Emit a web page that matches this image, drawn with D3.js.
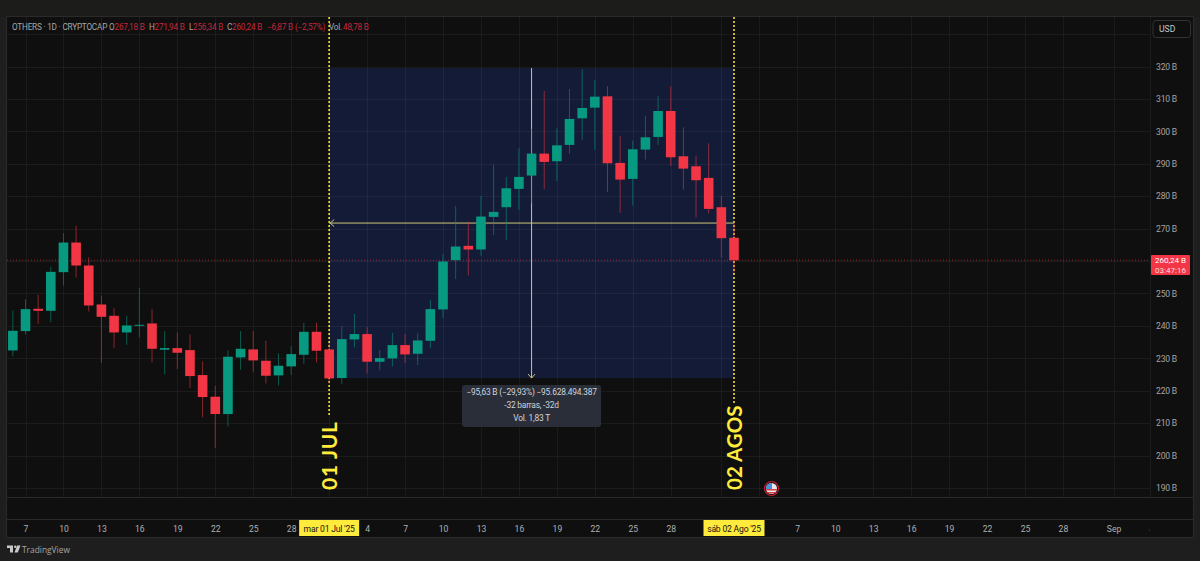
<!DOCTYPE html>
<html>
<head>
<meta charset="utf-8">
<script src="https://cdn.jsdelivr.net/npm/d3@7"></script>
<style>
  html, body { margin:0; padding:0; background:#1e1e1e; overflow:hidden; }
  text { font-family:Roboto, "Liberation Sans", sans-serif; }
  .domain { display:none; }
</style>
</head>
<body>
<div id="chart"></div>
<script>
var svgWidth = 1200;
var svgHeight = 561;

// daily candles, values in billions, first bar is 6 Jun 2025
var firstDay = '2025-06-06';
var opens = [232.43,238.39,245.27,244.65,256.57,265.71,258.62,246.6,243.11,237.98,240.03,240.75,232.64,233.15,232.53,224.83,218.15,212.81,230.27,232.74,229.25,224.73,227.5,231.09,238.18,
  232.74,223.91,235.82,237.47,228.94,229.97,234.08,231.4,235.41,245.07,260.27,264.69,263.56,273.62,276.6,282.25,286.36,293.13,290.77,295.81,304.02,307.31,310.8,290.26,285.33,294.37,298.27,306.28,292.31,289.23,285.64,276.6,267.18];
var highs = [244.76,248.25,249.6,258.3,268.6,270.85,261.19,249.38,245.48,243.11,251.74,245.17,238.39,237.98,237.36,229.04,221.54,232.53,238.39,238.39,235.41,231.51,233.77,240.96,240.96,
  234.69,239.93,243.73,239.62,232.53,237.88,237.47,237.67,248.05,262.12,277.0,272.18,280.09,289.75,285.95,294.78,300.74,312.45,300.94,313.06,319.23,315.84,313.88,298.58,297.14,304.85,310.91,313.88,301.25,292.52,296.32,280.09,271.94];
var lows = [230.58,237.36,240.65,241.16,252.46,254.93,244.45,228.53,233.15,234.18,236.44,228.73,225.03,226.68,220.82,211.78,202.33,209.01,226.47,225.86,222.26,221.64,224.83,228.32,228.73,
  222.26,222.06,233.36,225.34,226.27,227.5,228.53,227.91,233.15,242.4,254.41,255.54,261.6,267.97,266.53,275.78,277.83,282.14,284.71,293.13,297.35,294.26,281.32,274.85,277.11,291.29,295.81,289.33,282.04,273.41,274.64,260.98,256.34];
var closes = [238.49,245.17,244.65,256.67,265.71,258.62,246.3,242.8,237.98,240.13,240.34,232.94,233.15,231.71,224.52,218.05,212.81,230.48,232.94,229.35,224.62,227.7,231.3,238.18,232.33,
  223.8,235.92,237.47,228.94,230.07,234.08,231.2,235.51,245.17,259.86,264.48,263.56,273.73,275.16,282.45,285.95,293.14,290.57,295.7,303.82,307.21,310.7,290.16,285.12,294.47,298.17,306.28,292.0,288.51,284.92,276.08,267.04,260.24];

var priceTicks = [190,200,210,220,230,240,250,260,270,280,290,300,310,320];
var gridPrices = priceTicks.concat([330]);
var gridDates = ['2025-06-07','2025-06-10','2025-06-13','2025-06-16','2025-06-19','2025-06-22','2025-06-25','2025-06-28',
  '2025-07-01','2025-07-04','2025-07-07','2025-07-10','2025-07-13','2025-07-16','2025-07-19','2025-07-22','2025-07-25','2025-07-28',
  '2025-08-01','2025-08-04','2025-08-07','2025-08-10','2025-08-13','2025-08-16','2025-08-19','2025-08-22','2025-08-25','2025-08-28',
  '2025-09-01','2025-09-04'];
var hiddenDates = ['2025-07-01','2025-08-01','2025-08-04'];

var lastPrice = 260.24;
var measureTop = 319.53;
var measureBottom = 223.9;
var measureStart = '2025-07-01';
var measureEnd = '2025-08-02';
var measureMidDate = '2025-07-17';
var headerParts = [
  ['OTHERS · 1D · CRYPTOCAP', 12, 'g'], ['O', 109, 'g'], ['267,18 B', 114.5, 'r'], ['H', 149, 'g'], ['271,94 B', 154.5, 'r'],
  ['L', 189, 'g'], ['256,34 B', 193, 'r'], ['C', 227, 'g'], ['260,24 B', 232, 'r'], ['−6,87 B', 267, 'r'], ['(−2,57%)', 295, 'r'],
  ['Vol.', 329, 'g'], ['48,78 B', 343, 'r']
];
var tooltipLines = ['−95,63 B (−29,93%) −95.628.494.387', '-32 barras, -32d', 'Vol. 1,83 T'];

var parseDay = d3.utcParse('%Y-%m-%d');
var days = d3.utcDay.range(parseDay(firstDay), d3.utcDay.offset(parseDay(firstDay), closes.length));

var colUp = '#089981', colDown = '#f23645', colGold = '#ffeb3b', colAxis = '#a4a4a4';

var margin = { top:17, right:7, bottom:24, left:7 };
var paneBottom = 497;
var axisTop = 520;
var axisRight = 1150;

var xScale = d3.scaleUtc().domain([parseDay('2025-06-07'), parseDay('2025-08-02')]).range([25.5, 734]);
var yScale = d3.scaleLinear().domain([190, 320]).range([488, 66.5]);

var svg = d3.select('#chart').append('svg')
    .attr('width', svgWidth)
    .attr('height', svgHeight)
    .style('display', 'block');

var defs = svg.append('defs');
defs.append('clipPath').attr('id', 'timeClip').append('rect')
    .attr('x', margin.left).attr('y', axisTop).attr('width', axisRight - margin.left).attr('height', 18);
defs.append('clipPath').attr('id', 'flagClip').append('circle')
    .attr('cx', 771.5).attr('cy', 488.5).attr('r', 5.5);

// panel
svg.append('rect').attr('width', svgWidth).attr('height', svgHeight).attr('fill', '#1e1e1e');
svg.append('rect').attr('width', svgWidth).attr('height', margin.top).attr('fill', '#1c1c1b');
svg.append('rect')
    .attr('x', margin.left - 0.5).attr('y', margin.top - 0.5)
    .attr('width', svgWidth - margin.left - margin.right + 1).attr('height', svgHeight - margin.top - margin.bottom + 1)
    .attr('fill', '#0f0f0f').attr('stroke', '#2b2a28');

// measure box goes under the grid
var mx0 = xScale(parseDay(measureStart)), mx1 = xScale(parseDay(measureEnd));
var my0 = yScale(measureTop), my1 = yScale(measureBottom);
svg.append('rect').attr('x', mx0).attr('y', my0).attr('width', mx1 - mx0).attr('height', my1 - my0).attr('fill', '#131b36');

// grid
svg.append('g').selectAll('line').data(gridPrices).enter().append('line')
    .attr('x1', margin.left).attr('x2', axisRight)
    .attr('y1', d => Math.round(yScale(d)) + 0.5).attr('y2', d => Math.round(yScale(d)) + 0.5)
    .attr('stroke', '#ffffff').attr('stroke-opacity', 0.05);
svg.append('g').selectAll('line').data(gridDates.filter(d => xScale(parseDay(d)) < axisRight)).enter().append('line')
    .attr('x1', d => Math.round(xScale(parseDay(d))) + 0.5).attr('x2', d => Math.round(xScale(parseDay(d))) + 0.5)
    .attr('y1', margin.top).attr('y2', paneBottom)
    .attr('stroke', '#ffffff').attr('stroke-opacity', 0.05);

// pane and axis separators
svg.append('line').attr('x1', margin.left).attr('x2', svgWidth - margin.right).attr('y1', paneBottom + 0.5).attr('y2', paneBottom + 0.5).attr('stroke', '#2a2a2a');
svg.append('line').attr('x1', margin.left).attr('x2', svgWidth - margin.right).attr('y1', axisTop - 0.5).attr('y2', axisTop - 0.5).attr('stroke', '#2a2a2a');
svg.append('line').attr('x1', axisRight + 0.5).attr('x2', axisRight + 0.5).attr('y1', margin.top).attr('y2', paneBottom).attr('stroke', '#1c1c1c');

// yellow date markers sit under the candles
svg.append('line').attr('x1', mx0).attr('x2', mx0).attr('y1', margin.top).attr('y2', 415)
    .attr('stroke', colGold).attr('stroke-width', 1.5).attr('stroke-dasharray', '2 2');
svg.append('line').attr('x1', mx1).attr('x2', mx1).attr('y1', margin.top).attr('y2', 403)
    .attr('stroke', colGold).attr('stroke-width', 1.5).attr('stroke-dasharray', '2 2');

// measure lines
var midX = xScale(parseDay(measureMidDate));
var midY = yScale((measureTop + measureBottom) / 2);
var colMeasure = '#cfc878';
svg.append('line').attr('x1', mx0).attr('x2', mx1).attr('y1', midY).attr('y2', midY).attr('stroke', colMeasure).attr('stroke-width', 1);
svg.append('line').attr('x1', midX).attr('x2', midX).attr('y1', my0).attr('y2', my1).attr('stroke', colMeasure).attr('stroke-width', 1);
svg.append('path').attr('d', `M${mx0 + 5},${midY - 3.5}L${mx0 + 1},${midY}L${mx0 + 5},${midY + 3.5}`).attr('fill', 'none').attr('stroke', colMeasure);
svg.append('path').attr('d', `M${midX - 3.5},${my1 - 4}L${midX},${my1}L${midX + 3.5},${my1 - 4}`).attr('fill', 'none').attr('stroke', colMeasure);

// last price line
svg.append('line').attr('x1', margin.left).attr('x2', axisRight)
    .attr('y1', yScale(lastPrice)).attr('y2', yScale(lastPrice))
    .attr('stroke', colDown).attr('stroke-opacity', 0.6).attr('stroke-dasharray', '1 2');

// candles
var barWidth = 9.6;
var candles = svg.append('g').selectAll('g').data(days).enter().append('g');
candles.append('line')
    .attr('x1', d => xScale(d)).attr('x2', d => xScale(d))
    .attr('y1', (d, i) => yScale(highs[i])).attr('y2', (d, i) => yScale(lows[i]))
    .attr('stroke', (d, i) => closes[i] >= opens[i] ? colUp : colDown)
    .attr('stroke-opacity', 0.55).attr('stroke-width', 1);
candles.append('rect')
    .attr('x', d => xScale(d) - barWidth / 2)
    .attr('width', barWidth)
    .attr('y', (d, i) => yScale(Math.max(opens[i], closes[i])))
    .attr('height', (d, i) => Math.max(1, Math.abs(yScale(opens[i]) - yScale(closes[i]))))
    .attr('fill', (d, i) => closes[i] >= opens[i] ? colUp : colDown);

// rotated date notes
[[mx0, '01 JUL', 21, 0.7], [mx1, '02 AGOS', 20.5, 0]].forEach(function(m) {
    svg.append('text')
        .attr('transform', `translate(${m[0] + 7.5}, 490) rotate(-90)`)
        .attr('fill', colGold)
        .style('font-family', 'Lato')
        .style('font-size', m[2] + 'px').style('font-weight', 700).style('letter-spacing', m[3] + 'px')
        .text(m[1]);
});

// tooltip
svg.append('rect').attr('x', 462).attr('y', 385).attr('width', 139).attr('height', 42).attr('rx', 3).attr('fill', '#2a2e39');
svg.append('g').selectAll('text').data(tooltipLines).enter().append('text')
    .attr('x', midX).attr('y', (d, i) => 395 + i * 13)
    .attr('text-anchor', 'middle').attr('fill', '#d1d4dc').style('font-size', '8.4px').style('letter-spacing', '-0.2px')
    .text(d => d);

// price axis, the 260 label is covered by the last price tag
var priceAxis = d3.axisRight(yScale).tickValues(priceTicks.filter(d => d !== 260)).tickSize(0).tickPadding(0).tickFormat(d => d + ' B');
var priceG = svg.append('g').attr('transform', 'translate(1156,0)').call(priceAxis);
priceG.selectAll('text').attr('fill', colAxis).style('font-size', '8.6px').style('letter-spacing', '-0.2px').style('font-family', 'Roboto');

// time axis
var timeAxis = d3.axisBottom(xScale)
    .tickValues(gridDates.filter(d => hiddenDates.indexOf(d) < 0).map(parseDay))
    .tickSize(0).tickPadding(0)
    .tickFormat(d => d.getUTCDate() === 1 ? d3.utcFormat('%b')(d) : d.getUTCDate());
var timeG = svg.append('g').attr('clip-path', 'url(#timeClip)').append('g').attr('transform', 'translate(0,526)').call(timeAxis);
timeG.selectAll('text').attr('fill', '#b0b0b0').style('font-size', '8.6px').style('font-family', 'Roboto');

[[mx0, 'mar 01 Jul \'25', 60], [mx1, 'sáb 02 Ago \'25', 61]].forEach(function(m) {
    svg.append('rect').attr('x', m[0] - m[2] / 2).attr('y', 520).attr('width', m[2]).attr('height', 16).attr('fill', colGold);
    svg.append('text').attr('x', m[0]).attr('y', 531.5).attr('text-anchor', 'middle').attr('fill', '#131313')
        .style('font-size', '8.6px').style('letter-spacing', '-0.2px').text(m[1]);
});

// last price label
svg.append('rect').attr('x', 1151).attr('y', 255).attr('width', 39).attr('height', 20).attr('rx', 1).attr('fill', colDown);
svg.append('text').attr('x', 1170.5).attr('y', 263).attr('text-anchor', 'middle').attr('fill', '#ffffff').style('font-size', '8px').text('260,24 B');
svg.append('text').attr('x', 1170.5).attr('y', 272.5).attr('text-anchor', 'middle').attr('fill', '#ffd9dc').style('font-size', '8px').text('03:47:16');

// USD button
svg.append('rect').attr('x', 1153).attr('y', 20.5).attr('width', 37.5).attr('height', 17).attr('rx', 3).attr('fill', '#0f0f0f').attr('stroke', '#333333');
svg.append('text').attr('x', 1159).attr('y', 31.5).attr('fill', '#c8c8c8').style('font-size', '8.6px').text('USD');

// header
svg.append('g').selectAll('text').data(headerParts).enter().append('text')
    .attr('x', d => d[1]).attr('y', 30)
    .attr('fill', d => d[2] === 'g' ? '#a6a6a6' : '#c4273a')
    .style('font-size', '8.2px').style('letter-spacing', '-0.2px')
    .text(d => d[0]);

// flag marker
svg.append('circle').attr('cx', 771.5).attr('cy', 488.5).attr('r', 7).attr('fill', '#1a0a0c').attr('stroke', '#c4202e').attr('stroke-width', 1.2);
var flag = svg.append('g').attr('clip-path', 'url(#flagClip)');
flag.append('rect').attr('x', 765).attr('y', 482).attr('width', 13).attr('height', 13).attr('fill', '#e8e8e8');
flag.append('rect').attr('x', 765).attr('y', 489).attr('width', 13).attr('height', 1.5).attr('fill', '#d8404a');
flag.append('rect').attr('x', 765).attr('y', 492).attr('width', 13).attr('height', 1.5).attr('fill', '#d8404a');
flag.append('rect').attr('x', 765).attr('y', 482).attr('width', 7).attr('height', 7).attr('fill', '#4a8fe0');

// TradingView mark
svg.append('path').attr('d', 'M7,545.5h6v7h-3v-4.5h-3zM14.5,552.5l2.6,-7h3.4l-2.7,7z').attr('fill', '#c8c8c8');
svg.append('circle').attr('cx', 15.2).attr('cy', 546.8).attr('r', 1.2).attr('fill', '#c8c8c8');
svg.append('text').attr('x', 22).attr('y', 552.5).attr('fill', '#a6a6a6').style('font-size', '8.4px').style('font-family', '"Open Sans"').text('TradingView');
</script>
</body>
</html>
